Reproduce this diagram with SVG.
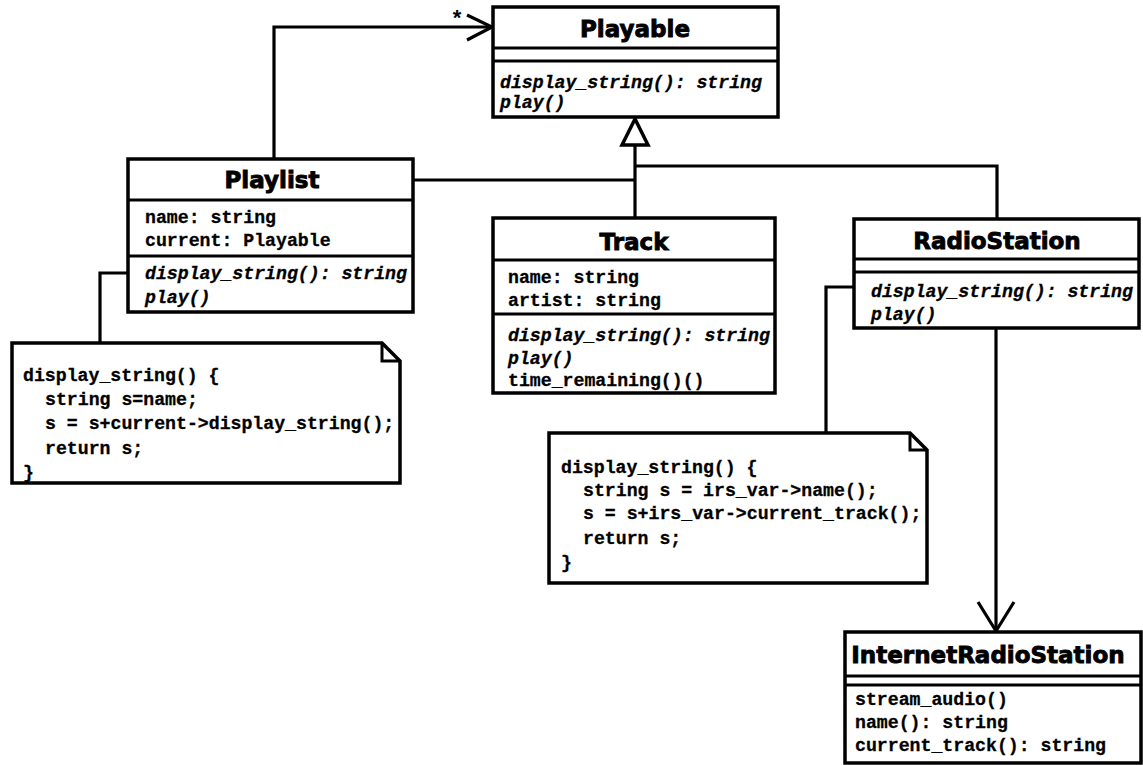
<svg xmlns="http://www.w3.org/2000/svg" width="1143" height="765" viewBox="0 0 1143 765">
<style>
.box{fill:#fff;stroke:#000;stroke-width:3.5}
.div{stroke:#000;stroke-width:3;fill:none}
.conn{stroke:#000;stroke-width:3.2;fill:none;stroke-linejoin:miter}
.hd{font-family:"DejaVu Sans","Liberation Sans",sans-serif;font-weight:bold;font-size:23px;text-anchor:middle;fill:#000;stroke:#000;stroke-width:0.9}
.m{font-family:"Liberation Mono","DejaVu Sans Mono",monospace;font-weight:bold;font-size:18.2px;fill:#000;stroke:#000;stroke-width:0.3;white-space:pre}
.i{font-style:italic}
.note{fill:#fff;stroke:#000;stroke-width:3.5;stroke-linejoin:miter}
</style>
<rect width="1143" height="765" fill="#fff"/>

<g id="connectors">
  <!-- association Playlist -> Playable -->
  <polyline class="conn" points="274,159 274,27 491,27"/>
  <polyline class="conn" points="467,15 492,27 467,40" stroke-width="4"/>
  <text x="457" y="25" font-family="Liberation Sans,sans-serif" font-weight="bold" font-size="22" text-anchor="middle">*</text>
  <!-- generalization -->
  <polygon points="635,119 622,145 648,145" fill="#fff" stroke="#000" stroke-width="3.5"/>
  <line class="conn" x1="635" y1="145" x2="635" y2="219"/>
  <line class="conn" x1="413" y1="180" x2="635" y2="180"/>
  <polyline class="conn" points="635,166 997,166 997,220"/>
  <!-- note links -->
  <polyline class="conn" points="128,273 100,273 100,343"/>
  <polyline class="conn" points="854,287 826,287 826,433"/>
  <!-- RadioStation -> InternetRadioStation -->
  <line class="conn" x1="996" y1="328" x2="996" y2="630"/>
  <polyline class="conn" points="978,602 996,631 1014,602" stroke-width="4"/>
</g>

<g id="Playable">
  <rect class="box" x="493" y="7" width="285" height="110"/>
  <line class="div" x1="493" y1="48" x2="778" y2="48"/>
  <line class="div" x1="493" y1="61" x2="778" y2="61"/>
  <text class="hd" x="635" y="37">Playable</text>
  <text class="m i" x="500" y="88" font-size="19.2">display_string(): string</text>
  <text class="m i" x="500" y="108" font-size="19.2">play()</text>
</g>

<g id="Playlist">
  <rect class="box" x="128" y="159" width="285" height="153"/>
  <line class="div" x1="128" y1="200" x2="413" y2="200"/>
  <line class="div" x1="128" y1="256" x2="413" y2="256"/>
  <text class="hd" x="272" y="188">Playlist</text>
  <text class="m" x="145" y="223">name: string</text>
  <text class="m" x="145" y="246">current: Playable</text>
  <text class="m i" x="145" y="279">display_string(): string</text>
  <text class="m i" x="145" y="303">play()</text>
</g>

<g id="Track">
  <rect class="box" x="493" y="218" width="282" height="175"/>
  <line class="div" x1="493" y1="260" x2="775" y2="260"/>
  <line class="div" x1="493" y1="314" x2="775" y2="314"/>
  <text class="hd" x="634" y="250">Track</text>
  <text class="m" x="508" y="283">name: string</text>
  <text class="m" x="508" y="306">artist: string</text>
  <text class="m i" x="508" y="341">display_string(): string</text>
  <text class="m i" x="508" y="364">play()</text>
  <text class="m" x="508" y="386">time_remaining()()</text>
</g>

<g id="RadioStation">
  <rect class="box" x="854" y="219" width="285" height="109"/>
  <line class="div" x1="854" y1="259" x2="1139" y2="259"/>
  <line class="div" x1="854" y1="272" x2="1139" y2="272"/>
  <text class="hd" x="997" y="249">RadioStation</text>
  <text class="m i" x="871" y="297">display_string(): string</text>
  <text class="m i" x="871" y="320">play()</text>
</g>

<g id="InternetRadioStation">
  <rect class="box" x="845" y="632" width="296" height="131"/>
  <line class="div" x1="845" y1="676" x2="1141" y2="676"/>
  <line class="div" x1="845" y1="685" x2="1141" y2="685"/>
  <text class="hd" x="988" y="663">InternetRadioStation</text>
  <text class="m" x="855" y="705" font-size="19">stream_audio()</text>
  <text class="m" x="855" y="728" font-size="19">name(): string</text>
  <text class="m" x="855" y="751" font-size="19">current_track(): string</text>
</g>

<g id="PlaylistNote">
  <path class="note" d="M12,343 H382 L400,361 V483 H12 Z"/>
  <path class="div" d="M382,343 V361 H400"/>
  <text class="m" x="23" y="381">display_string() {</text>
  <text class="m" x="45" y="405">string s=name;</text>
  <text class="m" x="45" y="429">s = s+current-&gt;display_string();</text>
  <text class="m" x="45" y="454">return s;</text>
  <text class="m" x="23" y="478">}</text>
</g>

<g id="RadioStationNote">
  <path class="note" d="M549,433 H910 L927,450 V583 H549 Z"/>
  <path class="div" d="M910,433 V450 H927"/>
  <text class="m" x="561" y="473">display_string() {</text>
  <text class="m" x="583" y="496">string s = irs_var-&gt;name();</text>
  <text class="m" x="583" y="519">s = s+irs_var-&gt;current_track();</text>
  <text class="m" x="583" y="544">return s;</text>
  <text class="m" x="561" y="568">}</text>
</g>
</svg>
